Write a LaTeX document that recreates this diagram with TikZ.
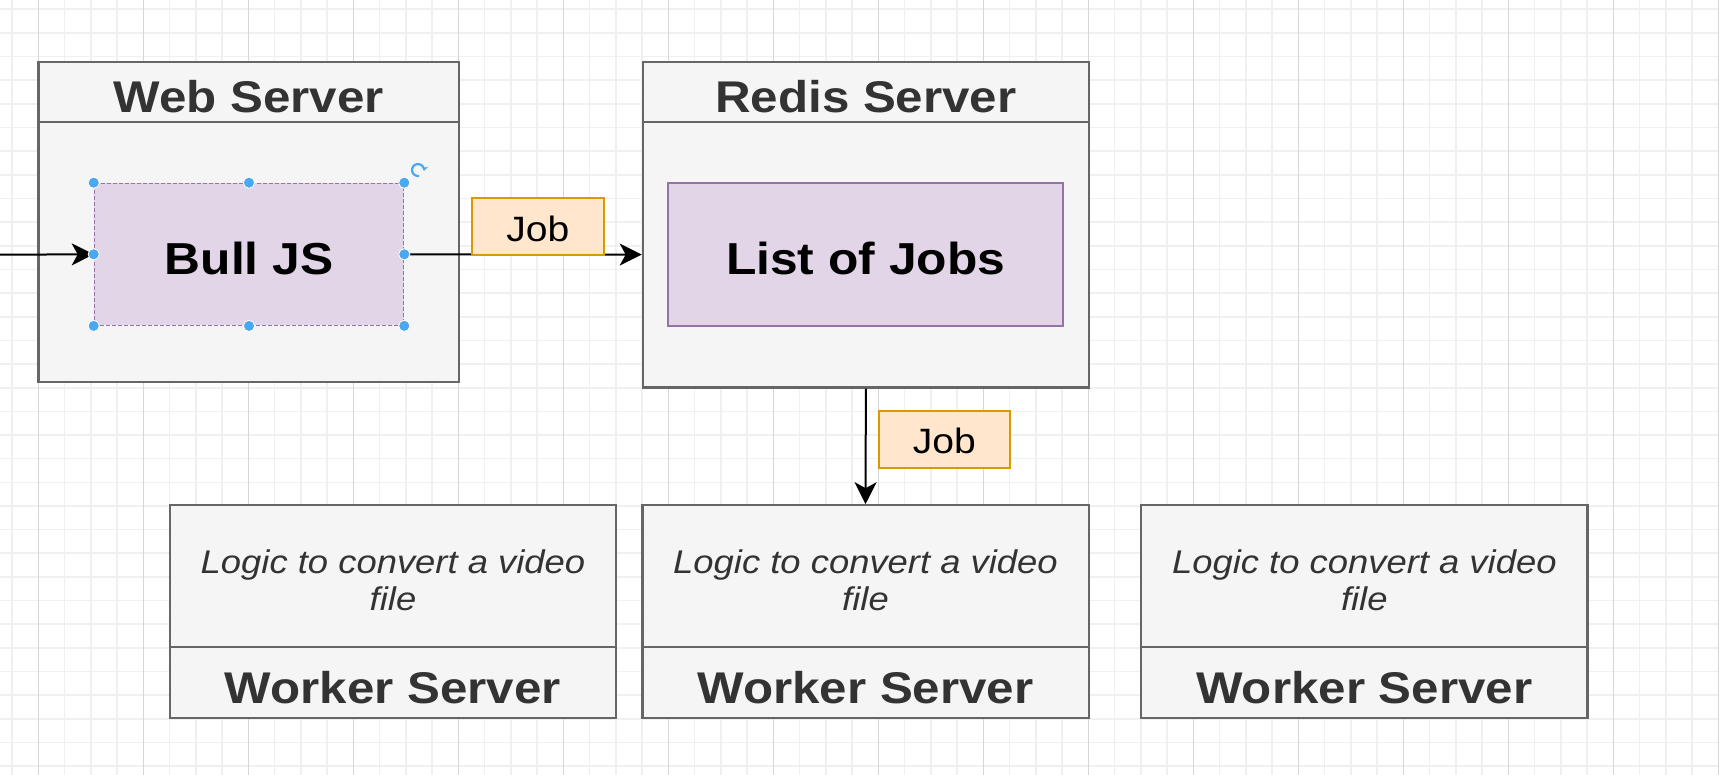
\documentclass[tikz,border=0pt]{standalone}
\usepackage{fontspec}
\setmainfont{Liberation Sans}[FakeStretch=1.11]
\usetikzlibrary{arrows.meta}
\definecolor{panelFill}{HTML}{F5F5F5}
\definecolor{panelLine}{HTML}{666666}
\definecolor{panelText}{HTML}{333333}
\definecolor{queueFill}{HTML}{E1D5E7}
\definecolor{queueLine}{HTML}{9673A6}
\definecolor{jobFill}{HTML}{FFE6CC}
\definecolor{jobLine}{HTML}{D79B00}
\definecolor{gridMinor}{HTML}{F0F0F0}
\definecolor{gridMajor}{HTML}{D6D6D6}
\definecolor{handleBlue}{HTML}{4AA8EE}
\newcommand{\boxArea}[7][]{
	\path ({(#3+#4)/2},{(#5+#6)/2}) node[draw, rectangle, inner sep=0pt, minimum width={(#4-#3)*0.5pt}, minimum height={(#6-#5)*0.5pt}, #1](#2){#7};
}
\newcommand{\arrowLink}[3][]{
	\draw[#1] (#2) -- (#3);
}
\newcommand{\handleDot}[1]{
	\fill[handleBlue, draw=white, line width=0.4pt] (#1) circle (2.8pt);
}
\tikzset{
	panel/.style={fill=panelFill, draw=panelLine, line width=1.1pt, text=panelText},
	title/.style={font=\fontsize{22.2}{26}\selectfont\bfseries, text height=20.2pt, text depth=0pt},
	queue/.style={fill=queueFill, draw=queueLine, text=black, font=\fontsize{22.4}{26}\selectfont\bfseries, text height=20.2pt, text depth=0pt},
	jobtag/.style={fill=jobFill, draw=jobLine, line width=1.1pt, font=\fontsize{17.6}{20}\selectfont, text height=14.4pt, text depth=0pt},
	logic/.style={align=center, font=\fontsize{16.4}{18.4}\selectfont\itshape},
	flow/.style={line width=1pt, -{Stealth[length=11pt, width=11pt, inset=3pt]}},
}

\begin{document}
\begin{tikzpicture}[x=0.5pt, y=-0.5pt]
	\fill[white] (0,0) rectangle (1719,775);
	\useasboundingbox (0,0) rectangle (1719,775);

	% background grid
	\foreach \i in {0,...,65}
		\draw[gridMinor, line width=0.8pt] ({12.05+26.25*\i},0) -- ({12.05+26.25*\i},775);
	\foreach \j in {0,...,32}
		\draw[gridMinor, line width=0.8pt] (0,{9.3+23.65*\j}) -- (1719,{9.3+23.65*\j});
	\foreach \i in {0,...,16}
		\draw[gridMajor, line width=0.5pt] ({38.3+105*\i},0) -- ({38.3+105*\i},775);

	% web server
	\boxArea[panel, title]{webHead}{38.4}{459}{62.3}{121.7}{Web Server};
	\boxArea[panel]{webBody}{38.4}{459}{121.7}{381.7}{};
	\boxArea[queue, line width=0.6pt, dash pattern=on 2pt off 1pt]{bull}{94.3}{403.7}{183.3}{325.3}{Bull JS};

	% redis server
	\boxArea[panel, title]{redisHead}{642.8}{1089}{62.3}{121.7}{Redis Server};
	\boxArea[panel]{redisBody}{642.8}{1089}{121.7}{387.5}{};
	\boxArea[queue, line width=1.1pt]{jobList}{668}{1063.2}{183.3}{326}{List of Jobs};

	% worker servers
	\boxArea[panel, logic]{workOneBody}{169.9}{616.1}{505.3}{647.3}{\rule{0pt}{16pt}Logic to convert a video\\file};
	\boxArea[panel, title]{workOneFoot}{169.9}{616.1}{647.3}{718.3}{Worker Server};
	\boxArea[panel, logic]{workTwoBody}{642.4}{1088.6}{505.3}{647.3}{\rule{0pt}{16pt}Logic to convert a video\\file};
	\boxArea[panel, title]{workTwoFoot}{642.4}{1088.6}{647.3}{718.3}{Worker Server};
	\boxArea[panel, logic]{workThreeBody}{1141.2}{1587.4}{505.3}{647.3}{\rule{0pt}{16pt}Logic to convert a video\\file};
	\boxArea[panel, title]{workThreeFoot}{1141.2}{1587.4}{647.3}{718.3}{Worker Server};

	% arrows
	\coordinate (inStart) at (0,254.7);
	\arrowLink[flow]{inStart}{bull.west};
	\arrowLink[flow]{bull.east}{redisBody.west};
	\arrowLink[flow]{redisBody.south}{workTwoBody.north};

	% job tags
	\boxArea[jobtag]{jobOne}{471.7}{603.9}{198.3}{255.3}{Job};
	\boxArea[jobtag]{jobTwo}{879.2}{1009.6}{410.7}{468}{Job};

	% selection handles
	\foreach \a in {north west, north, north east, west, east, south west, south, south east}
		\handleDot{bull.\a};
	\draw[handleBlue, line width=1.1pt, -{Stealth[length=2.5pt, width=3.5pt]}] ([shift={(418,170)}]80:6) arc[start angle=80, end angle=370, radius=6];
\end{tikzpicture}
\end{document}
